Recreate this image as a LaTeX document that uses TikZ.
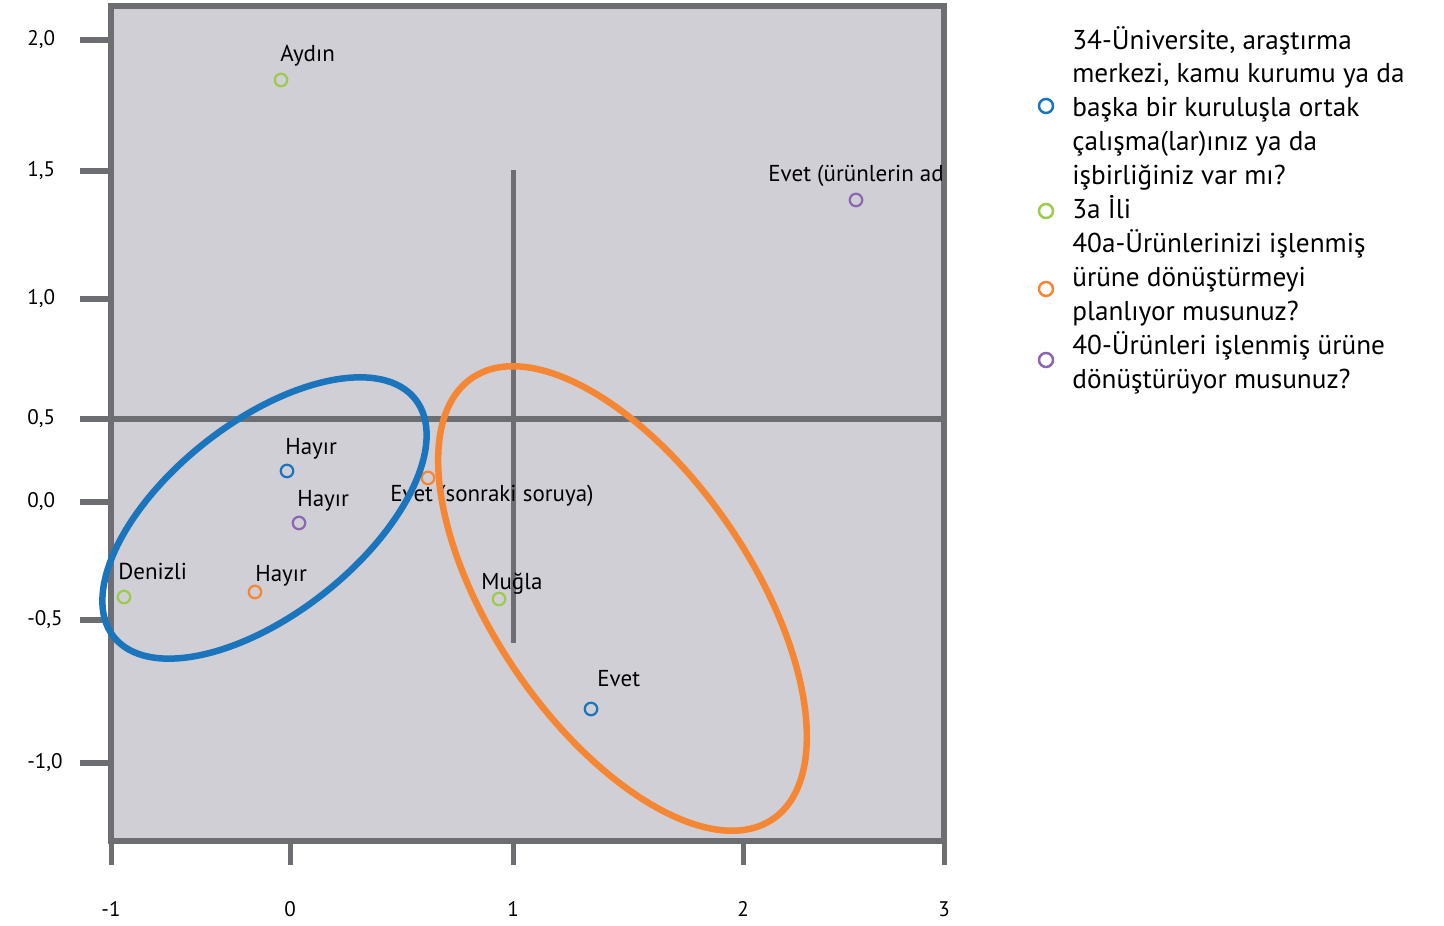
\documentclass[tikz,border=0pt]{standalone}
\usepackage{fontspec}
\setmainfont{PT Sans}
\definecolor{plotbg}{HTML}{D1CFD6}
\definecolor{axisgrey}{HTML}{6D6E72}
\definecolor{ptblue}{HTML}{1B75BC}
\definecolor{ptgreen}{HTML}{9BCB4B}
\definecolor{ptorange}{HTML}{F58634}
\definecolor{ptpurple}{HTML}{8B67B0}

\begin{document}
\begin{tikzpicture}[x=0.02cm, y=0.02cm,
  axisline/.style={draw=axisgrey, line width=0.12cm},
  tickline/.style={draw=axisgrey, line width=0.1cm},
  pt/.style={circle, draw=#1, line width=0.045cm, minimum size=0.25cm, inner sep=0pt},
  lgd/.style={circle, draw=#1, line width=0.05cm, minimum size=0.28cm, inner sep=0pt},
  lbl/.style={anchor=base west, inner sep=0pt, font=\fontsize{13.1}{15}\selectfont},
  ticklbl/.style={inner sep=0pt, font=\fontsize{12}{14}\selectfont},
  lgdtext/.style={anchor=base west, inner sep=0pt, align=left, font=\fontsize{15.5}{19.35}\selectfont},
  group/.style={draw=#1, line width=0.13cm}]
\useasboundingbox (0,0) rectangle (1444,926);

\def\xl{111}
\def\xr{944}
\def\yb{84.5}
\def\yt{919.5}

\fill[plotbg] (\xl,\yb) rectangle (\xr,\yt);
\draw[axisline] (\xl,\yb) rectangle (\xr,\yt);

% ticks
\foreach \y/\t in {886/{2,0}, 755/{1,5}, 627/{1,0}, 507/{0,5}, 424/{0,0}, 306/{-0,5}, 163/{-1,0}} {
  \draw[axisline] (80,\y) -- (\xl,\y);
  \node[ticklbl, anchor=base west] at (27,\y-6) {\t};
}
\foreach \x/\t in {111/-1, 290/0, 513/1, 743/2, 944/3} {
  \draw[tickline] (\x,\yb) -- (\x,61);
  \node[ticklbl, anchor=base] at (\x,9) {\t};
}

\draw[axisline] (\xl,507) -- (\xr,507);
\draw[tickline] (513,756) -- (513,283);

% points
\node[pt=ptgreen] (aydin) at (281,846) {};
\node[pt=ptpurple] (evetad) at (856,726) {};
\node[pt=ptblue] (hayirb) at (287,455) {};
\node[pt=ptpurple] (hayirp) at (299,403) {};
\node[pt=ptorange] (hayiro) at (255,334) {};
\node[pt=ptgreen] (denizli) at (124,329) {};
\node[pt=ptorange] (evetsr) at (428,448) {};
\node[pt=ptgreen] (mugla) at (499,327) {};
\node[pt=ptblue] (evetb) at (591,217) {};

\begin{scope}
\clip (\xl,\yb) rectangle (941,\yt);
\node[lbl] at ([shift={(-1,18)}]aydin) {Aydın};
\node[lbl] at ([shift={(-88,18)}]evetad) {Evet (ürünlerin ad};
\node[lbl] at ([shift={(-2,16)}]hayirb) {Hayır};
\node[lbl] at ([shift={(-2,16)}]hayirp) {Hayır};
\node[lbl] at ([shift={(0,10)}]hayiro) {Hayır};
\node[lbl] at ([shift={(-6,17)}]denizli) {Denizli};
\node[lbl] at ([shift={(-38,-24)}]evetsr) {Evet (sonraki soruya)};
\node[lbl] at ([shift={(-18,9)}]mugla) {Muğla};
\node[lbl] at ([shift={(6,22)}]evetb) {Evet};
\end{scope}

% groups
\draw[group=ptblue, rotate around={38.2:(264.5,408)}] (264.5,408) ellipse (3.84cm and 1.92cm);
\draw[group=ptorange, rotate around={-55.7:(622.5,327.5)}] (622.5,327.5) ellipse (5.34cm and 2.58cm);

% legend (base = last line)
\node[lgd=ptblue] (lblue) at (1046,820) {};
\node[lgd=ptgreen] (lgreen) at (1046,715) {};
\node[lgd=ptorange] (lorange) at (1046,637) {};
\node[lgd=ptpurple] (lpurple) at (1046,566) {};
\node[lgdtext] at (1072,741) {34-Üniversite, araştırma\\merkezi, kamu kurumu ya da\\başka bir kuruluşla ortak\\çalışma(lar)ınız ya da\\işbirliğiniz var mı?};
\node[lgdtext] at (1072,707) {3a İli};
\node[lgdtext] at (1072,605) {40a-Ürünlerinizi işlenmiş\\ürüne dönüştürmeyi\\planlıyor musunuz?};
\node[lgdtext] at (1072,537) {40-Ürünleri işlenmiş ürüne\\dönüştürüyor musunuz?};
\end{tikzpicture}
\end{document}
